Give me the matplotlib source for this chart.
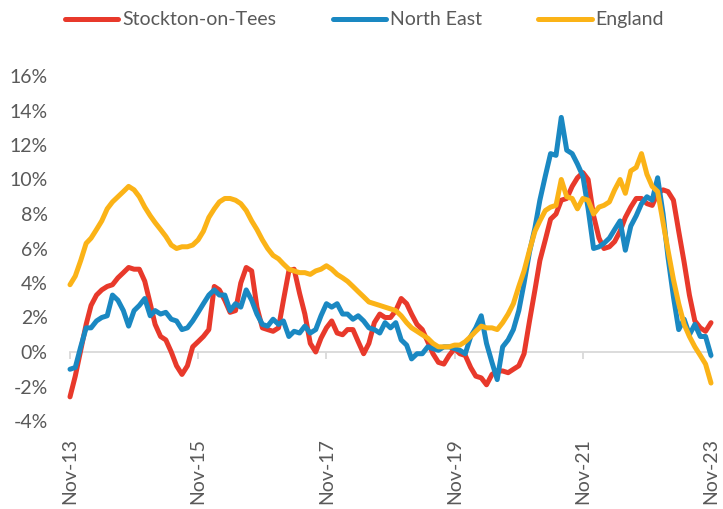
import matplotlib
matplotlib.use("Agg")
import matplotlib.pyplot as plt
import pandas as pd

# monthly annual % change, Nov-13 .. Nov-23
months = pd.date_range("2013-11-01", "2023-11-01", freq="MS")

stockton = [
    -2.6, -1.4, 0.1, 1.6, 2.7, 3.3, 3.6, 3.8, 3.9, 4.3, 4.6, 4.9,
    4.8, 4.8, 4.1, 2.8, 1.6, 0.9, 0.7, 0.0, -0.8, -1.3, -0.8, 0.3,
    0.6, 0.9, 1.3, 3.8, 3.6, 3.0, 2.3, 2.4, 4.0, 4.9, 4.7, 2.6,
    1.4, 1.3, 1.2, 1.4, 3.0, 4.7, 4.8, 3.4, 2.2, 0.5, 0.0, 0.8,
    1.4, 1.8, 1.1, 1.0, 1.3, 1.3, 0.6, -0.1, 0.5, 1.7, 2.2, 2.0,
    2.0, 2.4, 3.1, 2.8, 2.2, 1.6, 1.3, 0.6, -0.1, -0.6, -0.7, -0.2,
    0.2, -0.1, -0.2, -0.9, -1.4, -1.5, -1.9, -1.3, -1.1, -1.1, -1.2, -1.0,
    -0.8, -0.1, 1.8, 3.6, 5.3, 6.5, 7.7, 8.0, 8.8, 8.9, 9.6, 10.1,
    10.4, 10.0, 7.9, 6.6, 6.0, 6.1, 6.4, 7.0, 7.8, 8.4, 8.9, 8.9,
    8.6, 8.5, 9.2, 9.4, 9.3, 8.8, 7.0, 5.2, 3.3, 1.8, 1.4, 1.2,
    1.7,
]

north_east = [
    -1.0, -0.9, 0.3, 1.4, 1.4, 1.8, 2.0, 2.1, 3.3, 3.0, 2.4, 1.5,
    2.4, 2.7, 3.1, 2.1, 2.4, 2.2, 2.3, 1.9, 1.8, 1.3, 1.4, 1.8,
    2.3, 2.8, 3.3, 3.6, 3.3, 3.3, 2.4, 2.8, 2.6, 3.6, 3.0, 2.2,
    1.6, 1.5, 1.9, 1.6, 1.8, 0.9, 1.2, 1.1, 1.5, 1.1, 1.3, 2.1,
    2.8, 2.6, 2.8, 2.2, 2.2, 1.9, 2.1, 1.8, 1.4, 1.3, 1.1, 1.7,
    1.4, 1.7, 0.7, 0.4, -0.4, -0.1, -0.1, 0.3, 0.2, 0.1, 0.3, 0.3,
    0.2, 0.1, -0.1, 0.9, 1.4, 2.1, 0.5, -0.6, -1.6, 0.3, 0.7, 1.3,
    2.4, 4.0, 5.8, 7.2, 8.8, 10.2, 11.5, 11.4, 13.6, 11.7, 11.5, 10.9,
    10.2, 8.3, 6.0, 6.1, 6.3, 6.6, 7.1, 7.6, 5.9, 7.3, 7.9, 8.6,
    9.0, 8.8, 10.1, 8.0, 5.5, 3.2, 1.3, 1.9, 1.0, 1.6, 0.9, 0.9,
    -0.2,
]

england = [
    3.9, 4.4, 5.3, 6.3, 6.6, 7.1, 7.6, 8.3, 8.7, 9.0, 9.3, 9.6,
    9.4, 9.0, 8.4, 7.9, 7.5, 7.1, 6.7, 6.2, 6.0, 6.1, 6.1, 6.2,
    6.5, 7.0, 7.8, 8.3, 8.7, 8.9, 8.9, 8.8, 8.6, 8.2, 7.6, 7.1,
    6.5, 6.0, 5.6, 5.4, 5.1, 4.8, 4.7, 4.6, 4.6, 4.5, 4.7, 4.8,
    5.0, 4.8, 4.5, 4.3, 4.1, 3.8, 3.5, 3.2, 2.9, 2.8, 2.7, 2.6,
    2.5, 2.4, 2.1, 1.7, 1.4, 1.2, 1.0, 0.8, 0.5, 0.3, 0.3, 0.3,
    0.4, 0.4, 0.6, 0.9, 1.2, 1.5, 1.4, 1.4, 1.3, 1.7, 2.2, 2.8,
    3.8, 4.7, 5.9, 7.0, 7.6, 8.2, 8.4, 8.5, 10.0, 9.0, 8.9, 8.3,
    8.9, 8.8, 8.0, 8.4, 8.5, 8.7, 9.4, 10.0, 9.2, 10.5, 10.7, 11.5,
    10.3, 9.6, 9.3, 7.5, 5.9, 4.2, 2.8, 1.6, 0.9, 0.3, -0.2, -0.7,
    -1.8,
]

series = ["Stockton-on-Tees", "North East", "England"]
colors = ["#E8392B", "#1A88C2", "#FBB317"]
y_ticks = list(range(-4, 17, 2))
x_ticks = months[::24]

plt.rcParams["font.family"] = ["Lato", "DejaVu Sans"]
grey = "#595959"

fig = plt.figure(figsize=(7.23, 5.09), dpi=100)
ax = fig.add_axes([70 / 723, 1 - 421 / 509, 641 / 723, 345 / 509])

for name, vals, c in zip(series, [stockton, north_east, england], colors):
    ax.plot(months, vals, color=c, lw=3.6, label=name,
            solid_capstyle="round", solid_joinstyle="round", clip_on=False)

ax.set_xlim(months[0], months[-1])
ax.set_ylim(-4, 16)
ax.set_yticks(y_ticks)
ax.set_yticklabels([f"{v}%" for v in y_ticks])
ax.tick_params(axis="y", length=0, pad=16, labelsize=14, labelcolor=grey)

for s in ["top", "right", "left"]:
    ax.spines[s].set_visible(False)
ax.spines["bottom"].set_position(("data", 0))
ax.spines["bottom"].set_color("#d9d9d9")
ax.spines["bottom"].set_linewidth(1.3)
ax.spines["bottom"].set_zorder(0)
ax.set_xticks(x_ticks)
ax.tick_params(axis="x", direction="out", length=5, width=1.3,
               color="#d9d9d9", labelbottom=False)

sec = ax.secondary_xaxis(0)
sec.set_xticks(x_ticks)
sec.set_xticklabels([d.strftime("%b-%y") for d in x_ticks], rotation=90)
sec.tick_params(length=0, pad=12, labelsize=14, labelcolor=grey)
sec.spines["bottom"].set_visible(False)

ax.legend(loc="upper center", bbox_to_anchor=(0.5 - 26 / 641, 1.238), ncol=3,
          frameon=False, fontsize=14, labelcolor=grey, handlelength=2.75,
          handletextpad=0.2, columnspacing=2.9)

fig.savefig("out.png", dpi=100)
